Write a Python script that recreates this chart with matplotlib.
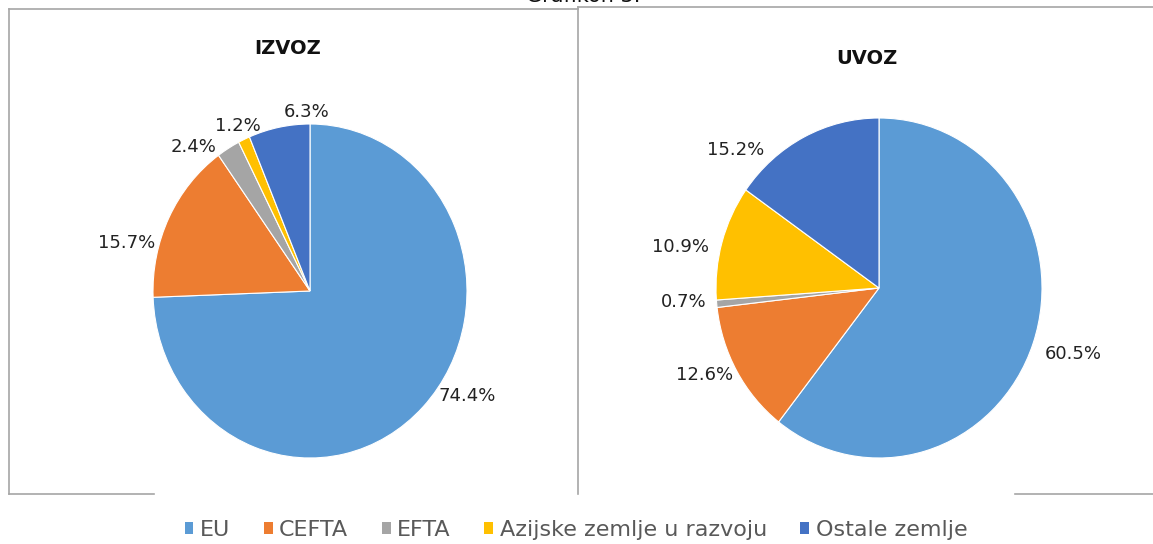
import matplotlib
matplotlib.use("Agg")
import matplotlib.pyplot as plt
from matplotlib.lines import Line2D
from matplotlib.patches import Patch

W, H = 1153, 544

categories = ["EU", "CEFTA", "EFTA", "Azijske zemlje u razvoju", "Ostale zemlje"]
izvoz = [74.4, 15.7, 2.4, 1.2, 6.3]
uvoz = [60.5, 12.6, 0.7, 10.9, 15.2]
colors = ["#5B9BD5", "#ED7D31", "#A5A5A5", "#FFC000", "#4472C4"]

# label centres in pie-radius units (Excel "best fit" placement)
izvoz_label_xy = [(1.00, -0.63), (-1.17, 0.29), (-0.74, 0.86), (-0.46, 0.99), (-0.02, 1.07)]
uvoz_label_xy = [(1.19, -0.39), (-1.07, -0.51), (-1.20, -0.08), (-1.22, 0.24), (-0.88, 0.81)]

plt.rcParams['font.family'] = ['DejaVu Sans']

fig = plt.figure(figsize=(W / 100, H / 100), dpi=100)


def px_axes(x0, y0, x1, y1):
    # pixel box (top-left origin) -> figure axes
    return fig.add_axes([x0 / W, 1 - y1 / H, (x1 - x0) / W, (y1 - y0) / H])


def draw_pie(ax, values, label_xy, title, title_xy):
    wedges, texts = ax.pie(values, colors=colors, startangle=90, counterclock=False,
                           normalize=True,
                           wedgeprops=dict(edgecolor="white", linewidth=0.8))
    for v, (lx, ly) in zip(values, label_xy):
        ax.text(lx, ly, "%.1f%%" % v, ha="center", va="center",
                fontsize=13, color="#222222")
    ax.set_xlim(-1, 1)
    ax.set_ylim(-1, 1)
    ax.set_aspect("auto")
    ax.axis("off")
    fig.text(title_xy[0] / W, 1 - title_xy[1] / H, title, ha="center", va="center",
             fontsize=14, fontweight="bold", color="#111111")


ax1 = px_axes(153, 124, 467, 458)
draw_pie(ax1, izvoz, izvoz_label_xy, "IZVOZ", (288, 48))

ax2 = px_axes(716, 118, 1042, 458)
draw_pie(ax2, uvoz, uvoz_label_xy, "UVOZ", (867, 58))

# panel borders (legend area covers part of the bottom line)
border = dict(color="#A6A6A6", linewidth=1.2, transform=fig.transFigure)
segs = [((9, 9), (9, 494)), ((9, 578), (9, 9)), ((578, 1153), (7, 7)),
        ((578, 578), (7, 494)), ((9, 154), (494, 494)), ((1015, 1153), (494, 494))]
for xs, ys in segs:
    fig.add_artist(Line2D([x / W for x in xs], [1 - y / H for y in ys], **border))

fig.text(583 / W, 1 - 6 / H, "Grafikon 3.", ha="center", va="bottom",
         fontsize=15, color="#111111")

handles = [Patch(facecolor=c, edgecolor="none") for c in colors]
fig.legend(handles, categories, loc="center", bbox_to_anchor=(576 / W, 1 - 530 / H),
           ncol=5, frameon=False, fontsize=16, handlelength=0.4, handleheight=0.4,
           handletextpad=0.3, columnspacing=1.5, labelcolor="#595959")

fig.savefig("out.png", dpi=100)
